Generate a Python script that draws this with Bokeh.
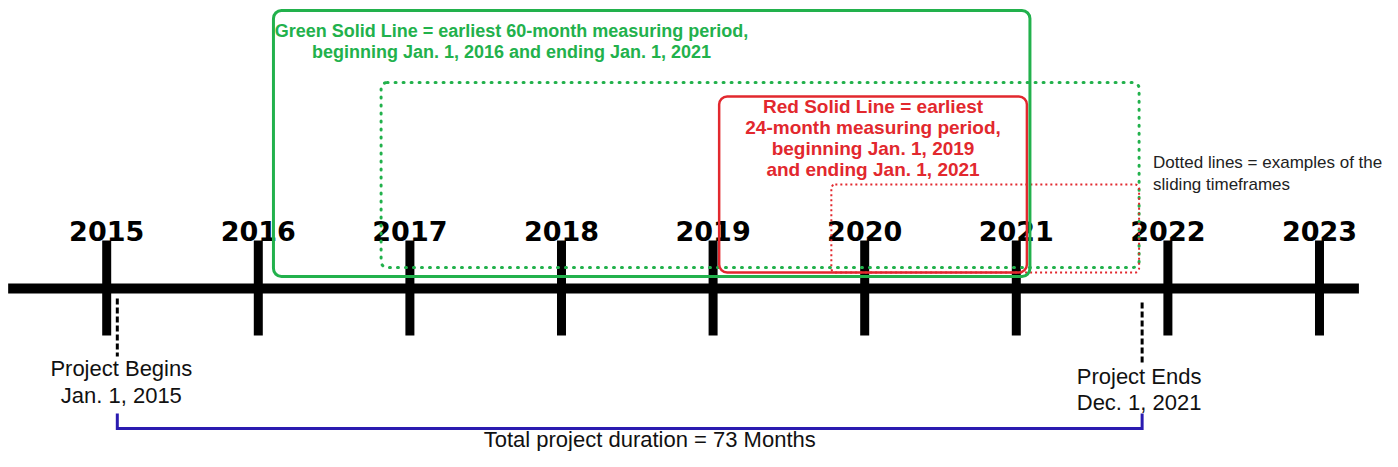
from bokeh.plotting import figure
from bokeh.models import Range1d
from bokeh.core.properties import value
from bokeh.embed import file_html
from bokeh.resources import INLINE

# ---------------- data ----------------
years = [2015, 2016, 2017, 2018, 2019, 2020, 2021, 2022, 2023]
year_labels = [str(y) for y in years]

# measuring periods, decimal years as drawn in the picture
green_solid = (2016.10, 2021.09)   # earliest 60-month period
green_dotted = (2016.81, 2021.81)  # sliding 60-month example
red_solid = (2019.04, 2021.07)     # earliest 24-month period
red_dotted = (2019.78, 2021.81)    # sliding 24-month example

project_begin = 2015.07
project_end = 2021.83
duration_months = 73

green_text = ["Green Solid Line = earliest 60-month measuring period,",
              "beginning Jan. 1, 2016 and ending Jan. 1, 2021"]
red_text = ["Red Solid Line = earliest",
            "24-month measuring period,",
            "beginning Jan. 1, 2019",
            "and ending Jan. 1, 2021"]
dotted_text = ["Dotted lines = examples of the", "sliding timeframes"]
begin_text = ["Project Begins", "Jan. 1, 2015"]
end_text = ["Project Ends", "Dec. 1, 2021"]
total_text = f"Total project duration = {duration_months} Months"

# ---------------- layout / style ----------------
GREEN = "#22b14c"
RED = "#e2282e"
BLUE = "#2a1bb0"
PX_PER_YEAR = 151.6


def Y(ref):
    """vertical layout helper: distance from top of image -> plot units"""
    return 467 - ref


p = figure(width=1382, height=451,
           x_range=Range1d(2014.2995, 2023.4156),
           y_range=Range1d(16, 467),
           output_backend="svg", toolbar_location=None,
           min_border=0, min_border_left=0, min_border_right=0,
           min_border_top=0, min_border_bottom=0)
p.axis.visible = False
p.grid.visible = False
p.outline_line_color = None
p.background_fill_color = "white"
p.border_fill_color = "white"

# main timeline
p.segment(x0=[years[0] - 0.65], x1=[years[-1] + 0.26], y0=[Y(288)], y1=[Y(288)],
          line_width=10, line_color="black", line_cap="butt")
# ticks
p.segment(x0=years, x1=years, y0=[Y(240)] * len(years), y1=[Y(335)] * len(years),
          line_width=9, line_color="black", line_cap="butt")


def txt(x, yref, s, size, color, bold=False, align="center",
        font="Liberation Sans", x_offset=0):
    n = len(x) if isinstance(x, list) else 1
    xs = x if isinstance(x, list) else [x]
    ss = s if isinstance(s, list) else [s]
    ys = yref if isinstance(yref, list) else [yref] * n
    p.text(x=xs, y=[Y(v) for v in ys], text=ss,
           text_font=value(font), text_font_size=f"{size}px",
           text_font_style="bold" if bold else "normal",
           text_color=color, text_align=align, text_baseline="middle",
           x_offset=x_offset)


# year labels
txt(years, 230, year_labels, 27, "black", bold=True, font="DejaVu Sans")

# boxes (dotted first)
p.quad(left=[green_dotted[0]], right=[green_dotted[1]], top=[Y(82)], bottom=[Y(267)],
       fill_color=None, line_color=GREEN, line_width=3, line_dash="1 7",
       line_cap="round", border_radius=6)
p.quad(left=[red_dotted[0]], right=[red_dotted[1]], top=[Y(184)], bottom=[Y(272)],
       fill_color=None, line_color=RED, line_width=2, line_dash="2 3",
       border_radius=4)
p.quad(left=[red_solid[0]], right=[red_solid[1]], top=[Y(96)], bottom=[Y(272)],
       fill_color=None, line_color=RED, line_width=2.5, border_radius=8)
p.quad(left=[green_solid[0]], right=[green_solid[1]], top=[Y(10)], bottom=[Y(276)],
       fill_color=None, line_color=GREEN, line_width=3, border_radius=8)

# box texts
for i, s in enumerate(green_text):
    txt(green_solid[0] + 238 / PX_PER_YEAR, 30 + 21 * i, s, 18, GREEN, bold=True)
red_cx = (red_solid[0] + red_solid[1]) / 2
for i, s in enumerate(red_text):
    txt(red_cx, 106 + 21 * i, s, 19, RED, bold=True)
for i, s in enumerate(dotted_text):
    txt(red_dotted[1] + 14 / PX_PER_YEAR, 162 + 22 * i, s, 17, "#222222", align="left")

# project begin / end markers
p.segment(x0=[project_begin], x1=[project_begin], y0=[Y(298)], y1=[Y(356)],
          line_width=3, line_color="black", line_dash="6 3", line_cap="butt")
p.segment(x0=[project_end], x1=[project_end], y0=[Y(302)], y1=[Y(362)],
          line_width=3, line_color="black", line_dash="6 3", line_cap="butt")
for i, s in enumerate(begin_text):
    txt(project_begin, 368 + 27 * i, s, 22, "#111111", x_offset=4)
for i, s in enumerate(end_text):
    txt(project_end, 376 + 26 * i, s, 22, "#111111", x_offset=-3)

# duration bracket
p.line(x=[project_begin, project_begin, project_end, project_end],
       y=[Y(413), Y(428), Y(428), Y(413)],
       line_width=3, line_color=BLUE, line_join="miter")
txt((project_begin + project_end) / 2, 439, total_text, 22, "#111111", x_offset=20)

open("out.html", "w").write(file_html(p, INLINE))
